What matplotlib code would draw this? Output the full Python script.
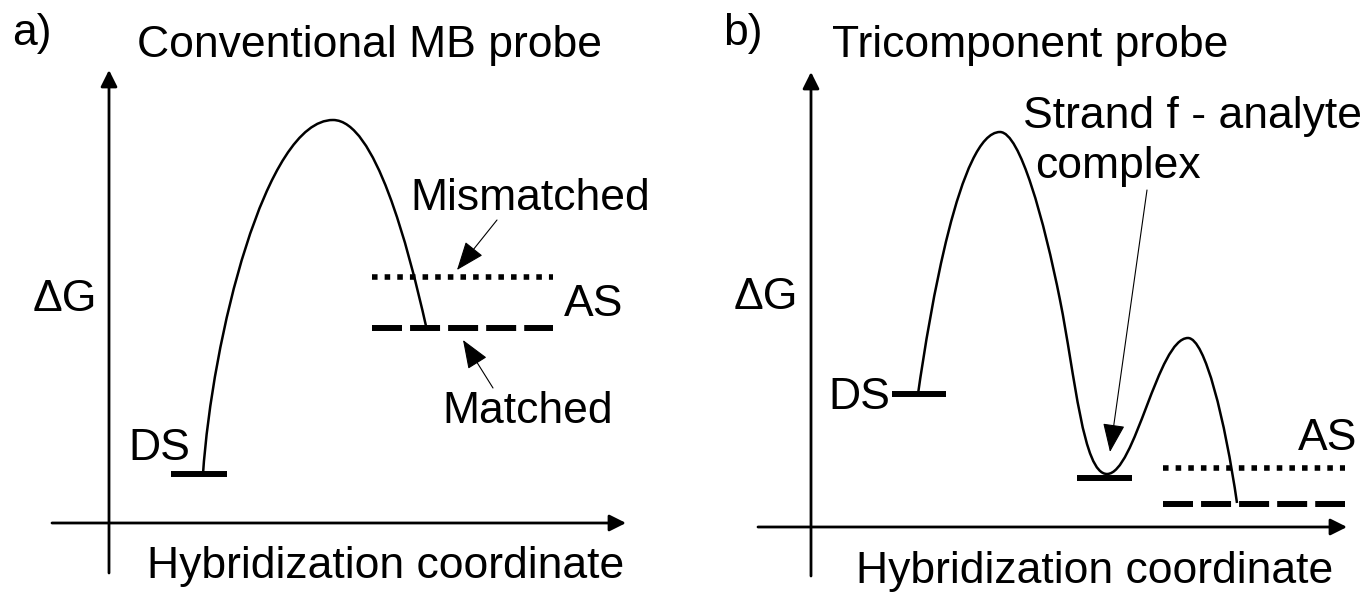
import matplotlib as mpl
import matplotlib.pyplot as plt
from matplotlib.path import Path
from matplotlib.patches import PathPatch, FancyArrowPatch

# All positions are in picture pixels (x to the right, y downwards)

# ---- panel a: conventional MB probe ----
A_CURVE = [(203, 474), (212, 340), (265, 120), (333, 120),
           (375, 120), (408, 246), (426, 326)]
A_DS_BAR = (171, 227, 474)
A_MISMATCH = (372, 553, 277)
A_MATCH = (372, 553, 328)
A_YAXIS = ((109, 573), (109, 70))
A_XAXIS = ((52, 523), (626, 523))
A_ARROWS = [((497, 220), (457, 270)), ((493, 388), (463, 340))]
A_TEXTS = [
    ("a)", 12, 45),
    ("Conventional MB probe", 137, 57),
    ("\u0394G", 33, 311),
    ("DS", 128, 460),
    ("Mismatched", 410, 210),
    ("AS", 564, 316),
    ("Matched", 442, 423),
    ("Hybridization coordinate", 147, 578),
]

# ---- panel b: tricomponent probe ----
B_CURVE = [(918, 394), (930, 310), (960, 132), (1000, 132),
           (1020, 132), (1044, 220), (1060, 300),
           (1075, 375), (1083, 474), (1107, 474),
           (1135, 474), (1158, 338), (1188, 338),
           (1205, 338), (1225, 420), (1237, 503)]
B_DS_BAR = (892, 946, 394)
B_COMPLEX_BAR = (1077, 1132, 478)
B_MISMATCH = (1163, 1345, 468)
B_MATCH = (1163, 1345, 504)
B_YAXIS = ((811, 576), (811, 72))
B_XAXIS = ((758, 527), (1347, 527))
B_ARROWS = [((1147, 190), (1110, 452))]
B_TEXTS = [
    ("b)", 723, 45),
    ("Tricomponent probe", 832, 57),
    ("Strand f - analyte", 1023, 128),
    ("complex", 1035, 178),
    ("\u0394G", 734, 309),
    ("DS", 828, 409),
    ("AS", 1298, 450),
    ("Hybridization coordinate", 856, 583),
]

W, H = 1360, 593
FONT = ["Liberation Sans", "DejaVu Sans"]
mpl.rcParams["lines.scale_dashes"] = False

fig = plt.figure(figsize=(W / 100, H / 100), dpi=100)
ax = fig.add_axes([0, 0, 1, 1])
ax.set_xlim(0, W)
ax.set_ylim(H, 0)
ax.axis("off")


def bezier(points):
    codes = [Path.MOVETO] + [Path.CURVE4] * (len(points) - 1)
    ax.add_patch(PathPatch(Path(points, codes), facecolor="none",
                           edgecolor="black", lw=1.8, capstyle="butt"))


def bar(spec, **kw):
    x0, x1, y = spec
    ax.plot([x0, x1], [y, y], color="black", solid_capstyle="butt",
            dash_capstyle="butt", **kw)


def axis_arrow(start, end):
    ax.add_patch(FancyArrowPatch(start, end,
                                 arrowstyle="-|>,head_length=1.0,head_width=0.5",
                                 mutation_scale=10, lw=2.0, color="black",
                                 shrinkA=0, shrinkB=0))


def pointer(start, end):
    ax.add_patch(FancyArrowPatch(start, end,
                                 arrowstyle="-|>,head_length=1.8,head_width=0.7",
                                 mutation_scale=10, lw=0.8, color="black",
                                 shrinkA=0, shrinkB=0))


for curve, ds, extra, mism, match, yax, xax, arrows, texts in [
    (A_CURVE, A_DS_BAR, None, A_MISMATCH, A_MATCH, A_YAXIS, A_XAXIS, A_ARROWS, A_TEXTS),
    (B_CURVE, B_DS_BAR, B_COMPLEX_BAR, B_MISMATCH, B_MATCH, B_YAXIS, B_XAXIS, B_ARROWS, B_TEXTS),
]:
    axis_arrow(*yax)
    axis_arrow(*xax)
    bezier(curve)
    bar(ds, lw=4.3)
    if extra:
        bar(extra, lw=4.3)
    bar(mism, lw=4.0, linestyle=(0, (4.0, 5.1)))
    bar(match, lw=4.3, linestyle=(0, (21.6, 5.8)))
    for s, e in arrows:
        pointer(s, e)
    for txt, x, y in texts:
        ax.text(x, y, txt, ha="left", va="baseline", fontsize=32,
                family=FONT, color="black")

fig.savefig("out.png", dpi=100, facecolor="white")
